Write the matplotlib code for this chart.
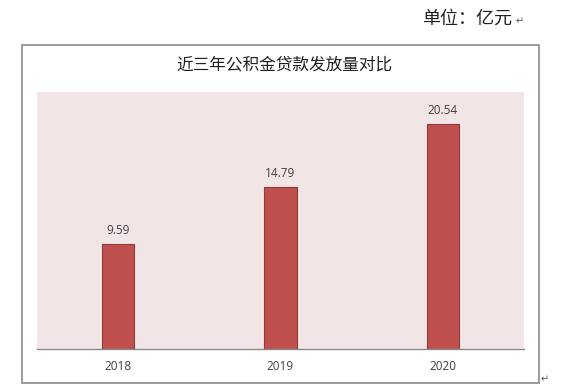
import matplotlib
matplotlib.use("Agg")
import matplotlib.pyplot as plt
from matplotlib.patches import Rectangle

plt.rcParams['font.family'] = ['Noto Sans CJK SC', 'DejaVu Sans']

# data
years = ['2018', '2019', '2020']
loans = [9.59, 14.79, 20.54]   # 亿元
title = '近三年公积金贷款发放量对比'
unit = '单位：亿元'

bar_color = '#C0504D'
edge_color = '#8E3B39'
bg_color = '#F2E5E6'
grey = '#8A8A8A'

fig = plt.figure(figsize=(5.81, 3.88), dpi=100)

# outer chart frame (word-style box)
fig.patches.append(Rectangle((0.0384, 0.0129), 0.8898, 0.8703, transform=fig.transFigure,
                             fill=False, edgecolor=grey, linewidth=1.2))

ax = fig.add_axes([0.0632, 0.0997, 0.8387, 0.6624])
ax.set_facecolor(bg_color)

x = range(len(years))
bars = ax.bar(x, loans, width=0.2, color=bar_color, edgecolor=edge_color, linewidth=0.8)

for b, v in zip(bars, loans):
    ax.annotate(f'{v:.2f}', (b.get_x() + b.get_width() / 2, v), xytext=(0, 5),
                textcoords='offset points', ha='center', va='bottom',
                fontsize=8.5, color='#404040', family=['Open Sans'])

ax.set_xlim(-0.5, 2.5)
ax.set_ylim(0, 23.45)
ax.set_xticks(list(x))
ax.set_xticklabels(years, fontsize=8.5, color='#404040', family=['Open Sans'])
ax.tick_params(axis='x', length=0, pad=8)
ax.set_yticks([])
for s in ['top', 'left', 'right']:
    ax.spines[s].set_visible(False)
ax.spines['bottom'].set_color(grey)
ax.spines['bottom'].set_linewidth(1.0)

fig.text(0.489, 0.832, title, ha='center', va='center', fontsize=12, color='#202020')
fig.text(0.727, 0.953, unit, ha='left', va='center', fontsize=13, color='#202020')
fig.text(0.888, 0.945, '↵', ha='left', va='center', fontsize=7, color='#555555',
         family=['DejaVu Sans'])
fig.text(0.930, 0.022, '↵', ha='left', va='center', fontsize=7, color='#555555',
         family=['DejaVu Sans'])

fig.savefig('out.png', dpi=100)
